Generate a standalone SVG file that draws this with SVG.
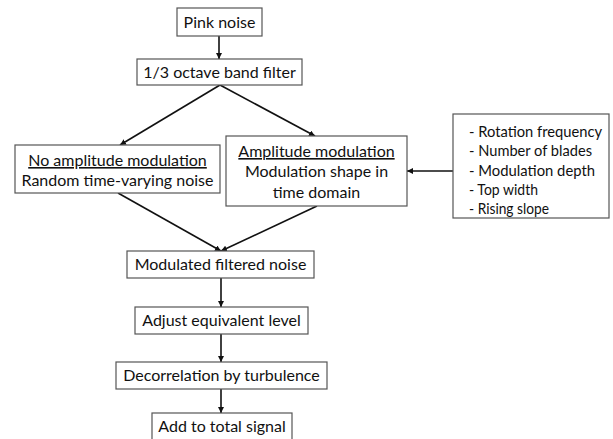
<svg xmlns="http://www.w3.org/2000/svg" width="613" height="439" viewBox="0 0 613 439">
<defs>
<style>
.box{fill:#fff;stroke:#555;stroke-width:1.2}
.t{font-family:Lato,"Open Sans","Liberation Sans",sans-serif;font-size:16px;fill:#111;text-anchor:middle}
.l{text-anchor:start}
.u{text-decoration:underline}
.c{stroke:#111;stroke-width:1.6;fill:none;marker-end:url(#ah)}
</style>
<marker id="ah" viewBox="0 0 10 10" refX="10" refY="5" markerWidth="6" markerHeight="6" orient="auto" markerUnits="userSpaceOnUse">
<path d="M0,0 L10,5 L0,10 z" fill="#111"/>
</marker>
</defs>
<rect width="613" height="439" fill="#fff"/>
<g id="connectors">
<line class="c" x1="219" y1="36" x2="219" y2="59"/>
<line class="c" x1="220" y1="85" x2="120" y2="145"/>
<line class="c" x1="220" y1="85" x2="315" y2="136"/>
<line class="c" x1="453" y1="171" x2="407" y2="171"/>
<line class="c" x1="118" y1="193" x2="221" y2="251"/>
<line class="c" x1="317" y1="206" x2="221" y2="251"/>
<line class="c" x1="221" y1="278" x2="221" y2="307"/>
<line class="c" x1="221" y1="334" x2="221" y2="362"/>
<line class="c" x1="221" y1="389" x2="221" y2="413"/>
</g>
<g id="pink">
<rect class="box" x="177" y="8" width="85" height="28"/>
<text class="t" x="219.5" y="28">Pink noise</text>
</g>
<g id="octave">
<rect class="box" x="137" y="59" width="165" height="26"/>
<text class="t" x="219.5" y="78">1/3 octave band filter</text>
</g>
<g id="noam">
<rect class="box" x="15" y="145" width="205" height="48"/>
<text class="t u" x="117.5" y="166">No amplitude modulation</text>
<text class="t" x="117.5" y="186">Random time-varying noise</text>
</g>
<g id="am">
<rect class="box" x="226" y="136" width="181" height="70"/>
<text class="t u" x="316.5" y="157">Amplitude modulation</text>
<text class="t" x="316.5" y="177">Modulation shape in</text>
<text class="t" x="316.5" y="198">time domain</text>
</g>
<g id="params">
<rect class="box" x="453" y="114" width="156" height="104"/>
<text class="t l" x="469" y="137" textLength="133" lengthAdjust="spacingAndGlyphs">- Rotation frequency</text>
<text class="t l" x="469" y="156" textLength="123" lengthAdjust="spacingAndGlyphs">- Number of blades</text>
<text class="t l" x="469" y="176" textLength="126" lengthAdjust="spacingAndGlyphs">- Modulation depth</text>
<text class="t l" x="469" y="195" textLength="69" lengthAdjust="spacingAndGlyphs">- Top width</text>
<text class="t l" x="469" y="214" textLength="80" lengthAdjust="spacingAndGlyphs">- Rising slope</text>
</g>
<g id="modulated">
<rect class="box" x="127" y="251" width="187" height="27"/>
<text class="t" x="220.5" y="270">Modulated filtered noise</text>
</g>
<g id="adjust">
<rect class="box" x="135" y="307" width="173" height="27"/>
<text class="t" x="221.5" y="326">Adjust equivalent level</text>
</g>
<g id="decorrelation">
<rect class="box" x="116" y="362" width="211" height="27"/>
<text class="t" x="221.5" y="381">Decorrelation by turbulence</text>
</g>
<g id="add">
<rect class="box" x="152" y="413" width="140" height="40"/>
<text class="t" x="222" y="432">Add to total signal</text>
</g>
</svg>
